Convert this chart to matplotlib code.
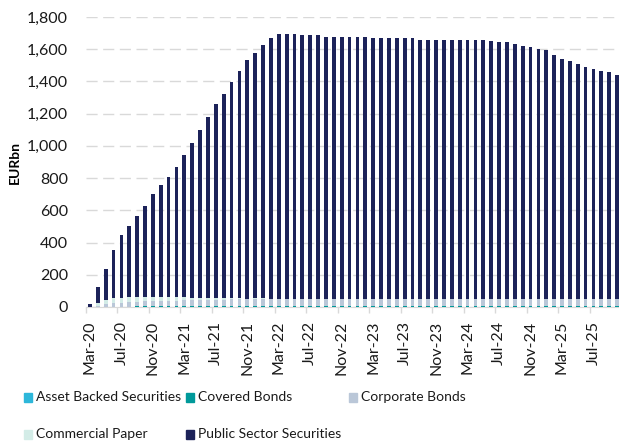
import matplotlib

matplotlib.use("Agg")
import matplotlib.pyplot as plt
import numpy as np
import pandas as pd
from matplotlib.patches import Rectangle
from matplotlib.ticker import FuncFormatter

plt.rcParams["font.family"] = ["Lato", "DejaVu Sans"]

# Monthly PEPP holdings, Mar-20 .. Oct-25 (EUR bn)
months = pd.date_range("2020-03-01", "2025-10-01", freq="MS").strftime("%b-%y").tolist()

covered_bonds = [
    0.2, 1.0, 1.8, 2.4, 2.8, 3.0, 3.2, 3.4, 3.6, 3.8,            # 2020
    4.0, 4.1, 4.3, 4.5, 4.7, 4.9, 5.1, 5.2, 5.4, 5.5, 5.7, 5.8,  # 2021
    5.9, 6.0, 6.0, 6.0, 6.0, 6.0, 6.0, 6.0, 6.0, 6.0, 6.0, 6.0,  # 2022
    6.0, 6.0, 6.0, 6.0, 6.0, 6.0, 6.0, 6.0, 6.0, 6.0, 6.0, 6.0,  # 2023
    6.0, 6.0, 6.0, 6.0, 6.0, 5.9, 5.9, 5.9, 5.9, 5.9, 5.9, 5.9,  # 2024
    5.6, 5.6, 5.6, 5.6, 5.6, 5.6, 5.6, 5.6, 5.6, 5.6,            # 2025
]
corporate_bonds = [
    0.6, 7, 15, 21, 25, 27, 29, 31, 33, 34,
    35, 36, 37, 38, 39, 40, 41, 41, 42, 43, 43, 44,
    45, 45, 46, 46, 46, 46, 46, 46, 46, 46, 46, 46,
    46, 46, 46, 46, 46, 46, 46, 46, 46, 46, 46, 46,
    46, 46, 46, 46, 46, 46, 46, 46, 46, 46, 46, 46,
    45, 45, 44, 44, 44, 43, 43, 43, 42, 42,
]
commercial_paper = [
    2, 19, 27, 30, 31, 31, 30, 28, 26, 24,
    22, 20, 18, 15, 13, 11, 9, 7, 6, 5, 4, 3,
    2, 1, 0, 0, 0, 0, 0, 0, 0, 0, 0, 0,
    0, 0, 0, 0, 0, 0, 0, 0, 0, 0, 0, 0,
    0, 0, 0, 0, 0, 0, 0, 0, 0, 0, 0, 0,
    0, 0, 0, 0, 0, 0, 0, 0, 0, 0,
]
public_sector = [
    14.2, 97.0, 194.2, 301.6, 386.2, 442.0, 503.8, 567.6, 637.4, 695.2,
    747.0, 805.9, 882.7, 959.5, 1043.3, 1121.1, 1204.9, 1270.8, 1340.6, 1413.5, 1480.3, 1524.2,
    1573.1, 1616.0, 1643.0, 1643.0, 1643.0, 1634.0, 1634.0, 1634.0, 1625.0, 1625.0, 1625.0, 1625.0,
    1625.0, 1625.0, 1616.0, 1616.0, 1616.0, 1616.0, 1616.0, 1616.0, 1608.0, 1608.0, 1608.0, 1608.0,
    1608.0, 1608.0, 1608.0, 1608.0, 1608.0, 1598.1, 1591.1, 1590.1, 1581.1, 1565.1, 1564.1, 1550.1,
    1543.4, 1515.4, 1491.4, 1475.4, 1458.4, 1443.4, 1426.4, 1418.4, 1410.4, 1394.4,
]
asset_backed = [0.0] * len(months)

series = [
    ("Asset Backed Securities", asset_backed, "#2DB7DA"),
    ("Covered Bonds", covered_bonds, "#00999A"),
    ("Corporate Bonds", corporate_bonds, "#BAC7D8"),
    ("Commercial Paper", commercial_paper, "#D3ECE7"),
    ("Public Sector Securities", public_sector, "#1C2259"),
]

W, H = 619, 441
fig = plt.figure(figsize=(W / 100, H / 100), dpi=100)
ax = fig.add_axes([86 / W, 1 - 307 / H, 535 / W, 290 / H])

x = np.arange(len(months))
bottom = np.zeros(len(months))
for name, vals, color in series:
    vals = np.asarray(vals, dtype=float)
    ax.bar(x, vals, width=0.48, bottom=bottom, color=color, label=name, zorder=3)
    bottom += vals

ax.set_xlim(-0.5, len(months) - 0.5)
ax.set_ylim(0, 1800)
ax.set_yticks(np.arange(0, 1801, 200))
ax.yaxis.set_major_formatter(FuncFormatter(lambda v, _: f"{v:,.0f}"))
ax.yaxis.grid(True, color="#D9D9D9", linestyle=(0, (8, 4)), linewidth=1, zorder=0)
ax.tick_params(axis="y", length=0, pad=13, labelsize=11.5, labelcolor="#1a1a1a")

ax.set_xticks(x[::4])
ax.set_xticklabels(months[::4], rotation=90)
ax.set_xticks(np.arange(-0.5, len(months), 4), minor=True)
ax.tick_params(axis="x", which="major", length=0, pad=10, labelsize=11.5, labelcolor="#1a1a1a")
ax.tick_params(axis="x", which="minor", length=4, color="#D9D9D9", width=1)

for side in ("left", "right", "top"):
    ax.spines[side].set_visible(False)
ax.spines["bottom"].set_color("#D9D9D9")

ax.set_ylabel("EURbn", fontsize=10, fontweight="bold", labelpad=4)

# legend laid out in a fixed 3-column grid under the axis
legend_slots = [(24, 397), (186, 397), (349, 397), (24, 434), (186, 434)]
for (name, _, color), (lx, ly) in zip(series, legend_slots):
    fig.patches.append(Rectangle((lx / W, 1 - (ly + 5) / H), 8 / W, 9 / H,
                                 transform=fig.transFigure, color=color))
    fig.text((lx + 12) / W, 1 - ly / H, name, fontsize=10, color="#1a1a1a", va="center")

fig.savefig("out.png", dpi=100)
